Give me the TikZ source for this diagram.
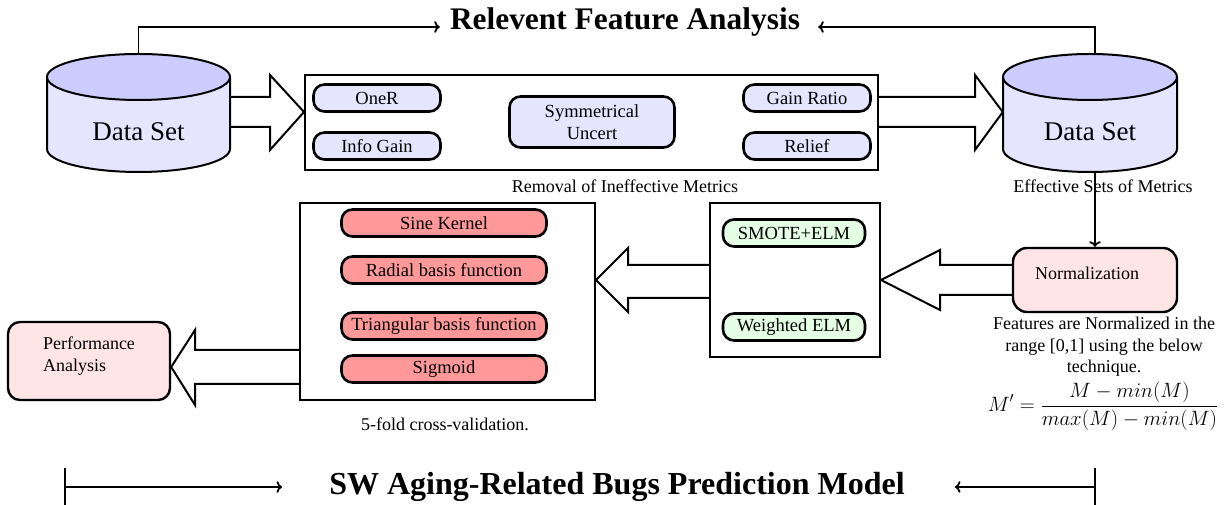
\documentclass[tikz,border=0pt]{standalone}
\usepackage[no-math]{fontspec}
\setmainfont{Liberation Serif}
\usetikzlibrary{calc,arrows.meta}
\begin{document}
\begin{tikzpicture}[x=1pt,y=1pt,
 bigbox/.style={draw, line width=2pt, fill=white, inner sep=0},
 item/.style={draw, line width=2.6pt, rounded corners=11pt, minimum height=27pt, inner sep=0, font=\fontsize{18.5}{20}\selectfont},
 bluei/.style={item, fill=blue!10, minimum width=127pt},
 redi/.style={item, fill=red!40, minimum width=205pt},
 greeni/.style={item, fill=green!10, minimum width=142pt},
 pinkbox/.style={draw, line width=2.4pt, rounded corners=14pt, fill=red!10, inner sep=0},
 blockarrow/.style={draw, line width=2pt, line join=miter},
 conn/.style={line width=1.8pt, ->},
 txt/.style={font=\fontsize{18}{22}\selectfont, inner sep=0},
 cylline/.style={line width=2pt},
]
\fill[white] (0,0) rectangle (1227,505);
\useasboundingbox (0,0) rectangle (1227,505);

% ---------- nodes ----------
\node[bigbox, minimum width=573, minimum height=95] (box1) at (591.5,382.5) {};
\node[bluei] (oner) at (377,407) {OneR};
\node[bluei] (info) at (377,359) {Info Gain};
\node[item, fill=blue!10, minimum width=165pt, minimum height=51pt, align=center, font=\fontsize{18.5}{22}\selectfont] (symm) at (592,383) {Symmetrical\\Uncert};
\node[bluei] (gain) at (807,407) {Gain Ratio};
\node[bluei] (relief) at (807,359) {Relief};
\node[txt] (cap1) at (625,319) {Removal of Ineffective Metrics};

\node[bigbox, minimum width=170, minimum height=154] (box2) at (795,225) {};
\node[greeni] (smote) at (794,272) {SMOTE+ELM};
\node[greeni] (welm) at (794,178) {Weighted ELM};

\node[bigbox, minimum width=295, minimum height=197] (box3) at (447.5,203.5) {};
\node[redi] (sine) at (444,282) {Sine Kernel};
\node[redi] (rbf) at (444,235) {Radial basis function};
\node[redi] (tbf) at (444,179) {Triangular basis function};
\node[redi] (sig) at (444,136) {Sigmoid};
\node[txt] (cap3) at (445,81) {5-fold cross-validation.};

\node[pinkbox, minimum width=164, minimum height=64] (norm) at (1095,225) {};
\node[txt] (normt) at (1087,232) {Normalization};
\node[txt, align=center, font=\fontsize{18}{21.5}\selectfont] (desc) at (1104,158) {Features are Normalized in the\\range [0,1] using the below\\technique.};
\node[inner sep=0, font=\fontsize{21}{24}\selectfont] (formula) at (1103,99) {$\displaystyle M' = \frac{M - min(M)}{max(M) - min(M)}$};

\node[pinkbox, rounded corners=12pt, minimum width=162, minimum height=78] (perf) at (89,144) {};
\node[txt, align=left] (perft) at (89,149) {Performance\\Analysis};

% ---------- cylinders ----------
\node[inner sep=0, minimum width=183, minimum height=118] (cylL) at (138.5,392) {};
\node[inner sep=0, minimum width=174, minimum height=118] (cylR) at (1090,392) {};

% ---------- block arrows ----------
\draw[blockarrow] (cylL.east |- 0,408) -- (270,408) -- (270,430) -- (box1.west |- 0,393) -- (270,355) -- (270,378) -- (cylL.east |- 0,378);
\draw[blockarrow] (box1.east |- 0,408) -- (975,408) -- (975,430) -- (cylR.west |- 0,393) -- (975,355) -- (975,378) -- (box1.east |- 0,378);
\draw[blockarrow] (norm.west |- 0,240) -- (940,240) -- (940,255) -- (box2.east) -- (940,195) -- (940,210) -- (norm.west |- 0,210);
\draw[blockarrow] (box2.west |- 0,240) -- (628,240) -- (628,257) -- (box3.east |- 0,225) -- (628,193) -- (628,207) -- (box2.west |- 0,207);
\draw[blockarrow] (box3.west |- 0,155) -- (195,155) -- (195,175) -- (perf.east |- 0,138) -- (195,100) -- (195,121) -- (box3.west |- 0,121);

% left cylinder drawing
\fill[blue!10] (47,428) -- (47,356) arc[start angle=180, end angle=360, x radius=91.5, y radius=23] -- (230,428) -- cycle;
\draw[cylline] (47,428) -- (47,356) arc[start angle=180, end angle=360, x radius=91.5, y radius=23] -- (230,428);
\draw[cylline, fill=blue!20] (138.5,428) ellipse[x radius=91.5, y radius=23];
\node[inner sep=0, font=\fontsize{27}{29}\selectfont] (dsL) at (138.5,373) {Data Set};
% right cylinder drawing
\fill[blue!10] (1003,428) -- (1003,356) arc[start angle=180, end angle=360, x radius=87, y radius=23] -- (1177,428) -- cycle;
\draw[cylline] (1003,428) -- (1003,356) arc[start angle=180, end angle=360, x radius=87, y radius=23] -- (1177,428);
\draw[cylline, fill=blue!20] (1090,428) ellipse[x radius=87, y radius=23];
\node[inner sep=0, font=\fontsize{27}{29}\selectfont] (dsR) at (1090,373) {Data Set};
\node[txt] (cap2) at (1103,319) {Effective Sets of Metrics};

% ---------- titles ----------
\node[inner sep=0, font=\fontsize{31.4}{33}\selectfont\bfseries] (title) at (625,483) {Relevent Feature Analysis};
\node[inner sep=0, font=\fontsize{32}{34}\selectfont\bfseries] (btitle) at (617,18) {SW Aging-Related Bugs Prediction Model};

% ---------- connectors ----------
\draw[conn] (cylL.north) |- ([xshift=-10pt,yshift=-5pt]title.west);
\draw[conn] (norm.north |- cylR.north) |- ([xshift=18pt,yshift=-5pt]title.east);
\draw[conn] (norm.north |- cylR.south) -- (norm.north);

\coordinate (bl) at (65,18);
\coordinate (br) at (1095,18);
\draw[line width=1.8pt] (65,0) -- (65,37);
\draw[line width=1.8pt] (1095,0) -- (1095,37);
\draw[conn, shorten >=47pt] (bl) -- (btitle.west);
\draw[conn, shorten >=50pt] (br) -- (btitle.east);
\end{tikzpicture}
\end{document}
